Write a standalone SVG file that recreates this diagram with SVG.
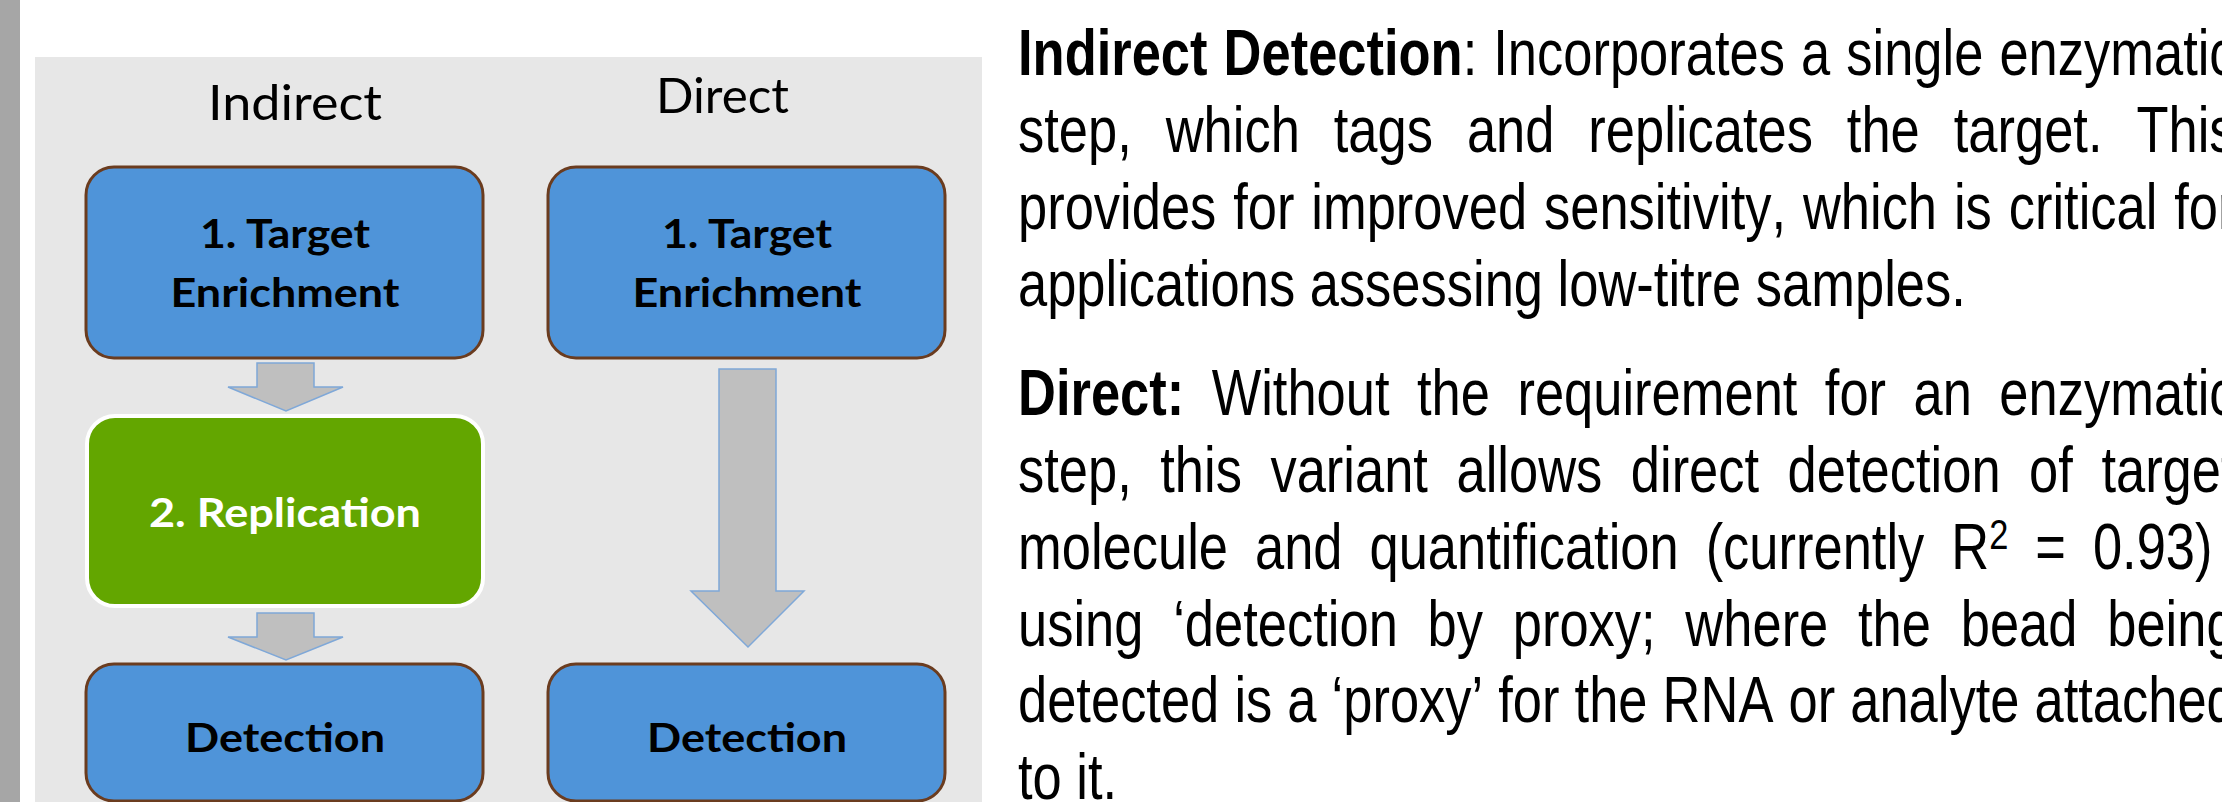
<svg xmlns="http://www.w3.org/2000/svg" width="2222" height="802" viewBox="0 0 2222 802">
  <style>
    .hdr { font-family: Lato, "Open Sans", sans-serif; font-size: 48px; fill: #000; }
    .lbl { font-family: Lato, "Open Sans", sans-serif; font-weight: 700; font-size: 41px; text-anchor: middle; fill: #000; }
    .lbl.w { fill: #fff; }
    .blue { fill: #4f94d9; stroke: #6b3c1f; stroke-width: 3; }
    .green { fill: #63a600; stroke: #ffffff; stroke-width: 4; }
    .arrow { fill: #bfbfbf; stroke: #7fa8d8; stroke-width: 1.5; }
    .body { font-family: "Liberation Sans", Arial, sans-serif; font-size: 64px; fill: #000; font-kerning: none; }
    .b { font-weight: 700; }
  </style>

  <!-- page background, side bar and diagram panel -->
  <rect x="0" y="0" width="2222" height="802" fill="#ffffff"/>
  <rect x="0" y="0" width="20" height="802" fill="#a6a6a6"/>
  <rect x="35" y="57" width="947" height="745" fill="#e7e7e7"/>

  <!-- column headers -->
  <text id="hdr-indirect" class="hdr" x="208" y="120" textLength="174" lengthAdjust="spacingAndGlyphs">Indirect</text>
  <text id="hdr-direct" class="hdr" x="656" y="113" textLength="133" lengthAdjust="spacingAndGlyphs">Direct</text>

  <!-- flow arrows -->
  <g id="connectors">
    <polygon class="arrow" points="257,363 314,363 314,387 343,387 286,411 228,387 257,387"/>
    <polygon class="arrow" points="257,613 314,613 314,637 343,637 286,660 228,637 257,637"/>
    <polygon class="arrow" points="719,369 776,369 776,591 804,591 748,647 691,591 719,591"/>
  </g>

  <!-- indirect column -->
  <g id="node-indirect-enrichment">
    <rect class="blue" x="86" y="167" width="397" height="191" rx="28" ry="28"/>
    <text class="lbl" x="285" y="248" textLength="170" lengthAdjust="spacingAndGlyphs">1. Target</text>
    <text class="lbl" x="285" y="307" textLength="229" lengthAdjust="spacingAndGlyphs">Enrichment</text>
  </g>
  <g id="node-replication">
    <rect class="green" x="87" y="416" width="396" height="190" rx="28" ry="28"/>
    <text class="lbl w" x="285" y="527" textLength="272" lengthAdjust="spacingAndGlyphs">2. Replication</text>
  </g>
  <g id="node-indirect-detection">
    <rect class="blue" x="86" y="664" width="397" height="137" rx="28" ry="28"/>
    <text class="lbl" x="285" y="752" textLength="200" lengthAdjust="spacingAndGlyphs">Detection</text>
  </g>

  <!-- direct column -->
  <g id="node-direct-enrichment">
    <rect class="blue" x="548" y="167" width="397" height="191" rx="28" ry="28"/>
    <text class="lbl" x="747" y="248" textLength="170" lengthAdjust="spacingAndGlyphs">1. Target</text>
    <text class="lbl" x="747" y="307" textLength="229" lengthAdjust="spacingAndGlyphs">Enrichment</text>
  </g>
  <g id="node-direct-detection">
    <rect class="blue" x="548" y="664" width="397" height="137" rx="28" ry="28"/>
    <text class="lbl" x="747" y="752" textLength="200" lengthAdjust="spacingAndGlyphs">Detection</text>
  </g>

  <!-- description text, narrow face, justified by word spacing -->
  <g id="description" transform="translate(1018 0) scale(0.82 1)">
    <text class="body" x="0" y="75" style="word-spacing:1.8px"><tspan class="b">Indirect Detection</tspan>: Incorporates a single enzymatic</text>
    <text class="body" x="0" y="152" style="word-spacing:23.6px">step, which tags and replicates the target. This</text>
    <text class="body" x="0" y="229" style="word-spacing:2.8px">provides for improved sensitivity, which is critical for</text>
    <text class="body" x="0" y="306">applications assessing low-titre samples.</text>

    <text class="body" x="0" y="415" style="word-spacing:15.7px"><tspan class="b">Direct:</tspan> Without the requirement for an enzymatic</text>
    <text class="body" x="0" y="492" style="word-spacing:17px">step, this variant allows direct detection of target</text>
    <text class="body" x="0" y="569" style="word-spacing:15.1px">molecule and quantification (currently R<tspan font-size="42" dy="-20">2</tspan><tspan dy="20"> = 0.93)</tspan></text>
    <text class="body" x="0" y="646" style="word-spacing:18.5px">using ‘detection by proxy; where the bead being</text>
    <text class="body" x="0" y="722" style="word-spacing:0.6px">detected is a ‘proxy’ for the RNA or analyte attached</text>
    <text class="body" x="0" y="799">to it.</text>
  </g>
</svg>
